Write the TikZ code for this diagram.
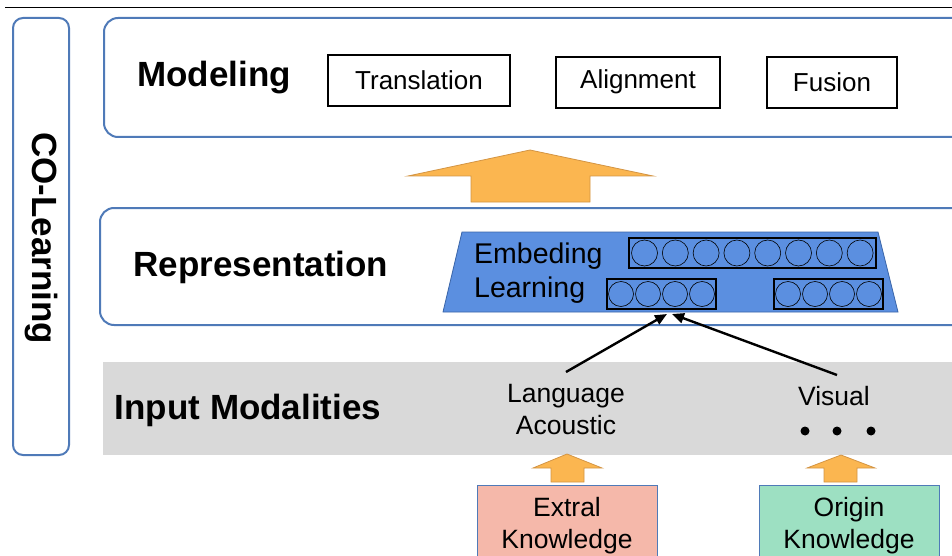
\documentclass[tikz,border=0pt]{standalone}
\usepackage{fontspec}
\setmainfont{Liberation Sans}
\usetikzlibrary{arrows.meta}
\definecolor{frameblue}{HTML}{4F7AB8}
\definecolor{trapblue}{HTML}{5B8FE0}
\definecolor{trapedge}{HTML}{3A65A8}
\definecolor{bandgray}{HTML}{D9D9D9}
\definecolor{arrowfill}{HTML}{FBB650}
\definecolor{arrowedge}{HTML}{D39443}
\definecolor{extrafill}{HTML}{F5B8AA}
\definecolor{originfill}{HTML}{9DE0C2}
\tikzset{
  panel/.style={draw=frameblue, line width=2pt, rounded corners=14pt, fill=white},
  headline/.style={font=\fontsize{35}{38}\selectfont\bfseries, anchor=center},
  methodbox/.style={draw=black, line width=1.6pt},
  methodtext/.style={font=\fontsize{26}{28}\selectfont},
  plain/.style={font=\fontsize{26.5}{32}\selectfont, align=center, inner sep=0pt},
  blockarrow/.style={fill=arrowfill, draw=arrowedge, line width=0.8pt},
  unit/.style={draw=black, line width=0.6pt, circle, inner sep=0pt},
  unitrow/.style={draw=black, line width=1.2pt, inner sep=0pt},
  knowbox/.style={draw=frameblue, line width=1pt, inner sep=0pt},
  feed/.style={-{Stealth[length=12pt,width=10pt,inset=0pt]}, line width=2.4pt}
}
\begin{document}
\begin{tikzpicture}[x=1pt,y=-1pt]
\useasboundingbox (0,0) rectangle (952,556);
\clip (0,0) rectangle (952,556);

% rule under the page heading
\draw[line width=1pt] (5,8) -- (952,8);

% side bracket
\draw[panel, rounded corners=10pt] (13,18) rectangle (69,455);
\node[headline, rotate=-90] (colearn) at (41,238) {CO-Learning};

% modeling panel
\draw[panel] (104,18) rectangle (975,137);
\node[headline] (modeling) at (214,78) {Modeling};
\draw[methodbox] (328,55) rectangle (510,106);
\node[methodtext] (trans) at (419,80) {Translation};
\draw[methodbox] (556,57) rectangle (720,108);
\node[methodtext] (align) at (638,82) {Alignment};
\draw[methodbox] (767,57) rectangle (897,108);
\node[methodtext] (fusion) at (832,82) {Fusion};

% big upward arrow
\draw[blockarrow] (530,150) -- (653,176) -- (590,176) -- (590,202) -- (471,202) -- (471,176) -- (408,176) -- cycle;

% representation panel
\draw[panel] (100,208) rectangle (975,325);
\node[headline] (repr) at (261,267) {Representation};

% embedding trapezoid
\draw[fill=trapblue, draw=trapedge, line width=0.8pt] (462,232) -- (878,232) -- (898,312) -- (443,312) -- cycle;
\node[plain, anchor=west, font=\fontsize{28.5}{30}\selectfont] (emb) at (474,256) {Embeding};
\node[plain, anchor=west, font=\fontsize{28.5}{30}\selectfont] (lrn) at (474,290) {Learning};

% unit rows
\draw[unitrow] (629,238) rectangle (876,268);
\foreach \i in {0,...,7} {
  \node[unit, minimum size=26pt] at ({644.5+\i*30.8},253) {};
}
\draw[unitrow] (607,279) rectangle (716,309);
\foreach \i in {0,...,3} {
  \node[unit, minimum size=25pt] at ({621+\i*27},294) {};
}
\draw[unitrow] (774,279) rectangle (883,309);
\foreach \i in {0,...,3} {
  \node[unit, minimum size=25pt] at ({788+\i*27},294) {};
}

% input band
\fill[bandgray] (103,362) rectangle (960,455);
\node[headline] (input) at (248,410) {Input Modalities};
\node[plain] (lang) at (566,410) {Language\\Acoustic};
\node[plain] (visual) at (834,396) {Visual};
\foreach \x in {805,837,871} {
  \fill (\x,431) circle (4.5pt);
}
\coordinate (langtop) at (566,372);
\coordinate (vistop) at (837,375);
\draw[feed] (langtop) -- (667,314);
\draw[feed] (vistop) -- (672,314);

% small arrows and knowledge boxes
\draw[blockarrow] (567,454) -- (602,468) -- (584,468) -- (584,482) -- (551,482) -- (551,468) -- (533,468) -- cycle;
\draw[blockarrow] (841,455) -- (875,468) -- (857,468) -- (857,482) -- (824,482) -- (824,468) -- (807,468) -- cycle;

\draw[knowbox, fill=extrafill] (477,485) rectangle (657,570);
\node[plain] (extra) at (567,526) {Extral\\Knowledge};
\draw[knowbox, fill=originfill] (759,485) rectangle (939,570);
\node[plain] (origin) at (849,526) {Origin\\Knowledge};
\end{tikzpicture}
\end{document}
